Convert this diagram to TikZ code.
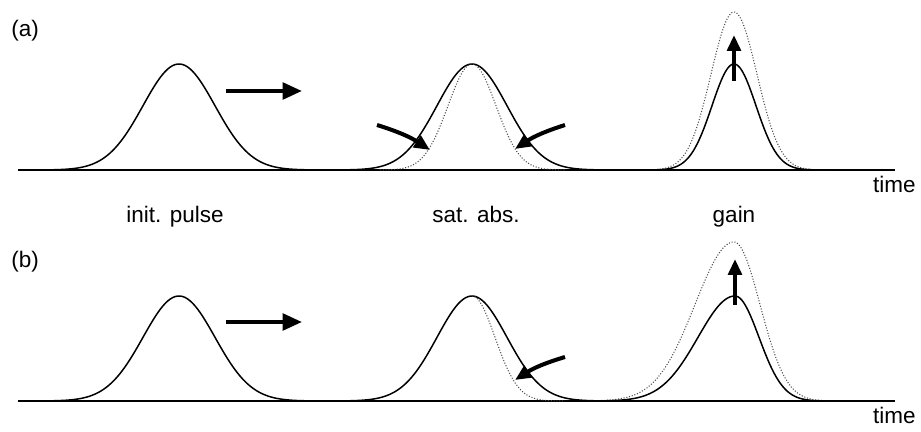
\documentclass[tikz,border=0pt]{standalone}
\usepackage{fontspec}
\setmainfont{Liberation Sans}
\usetikzlibrary{arrows.meta, positioning}

\begin{document}
\begin{tikzpicture}[x=0.02cm, y=-0.02cm,
    pulse/.style={line width=0.85pt},
    probe/.style={line width=0.6pt, black!70, densely dotted},
    axisline/.style={line width=0.8pt},
    fat/.style={-{Triangle[length=#1, width=0.85*#1]}, line width=2.3pt},
    fat/.default=9pt,
    lbl/.style={font=\fontsize{12.8}{15}\selectfont, inner sep=0pt},
    declare function={gs(\t,\c,\s)=exp(-((\t-\c)/\s)^2/2);
                      ag(\t,\c,\l,\r)=(\t<\c)*gs(\t,\c,\l)+(\t>=\c)*gs(\t,\c,\r);}]
    \useasboundingbox (0,0) rectangle (921,432);

    % (a) symmetric pulse
    \node[lbl, anchor=base west] (tagA) at (11,37) {(a)};
    \draw[axisline] (18,170) -- (895,170);
    \node[lbl, anchor=base east] (timeA) at (916,193) {time};
    \draw[pulse] plot[domain=30:330, samples=121] (\x, {170-106*gs(\x,179,36)});
    \draw[fat=11pt] (226,91) -- (302,91);
    \draw[pulse] plot[domain=330:620, samples=121] (\x, {170-106*gs(\x,472,35)});
    \draw[probe] plot[domain=380:565, samples=121] (\x, {170-106*gs(\x,472,24)});
    \draw[fat] (377,125) to[bend left=8] (430,150);
    \draw[fat] (565,125) to[bend right=8] (515,149);
    \draw[probe] plot[domain=640:830, samples=121] (\x, {170-158*gs(\x,734,23)});
    \draw[pulse] plot[domain=640:830, samples=121] (\x, {170-106*gs(\x,734,22)});
    \draw[fat] (734,81) -- (734,35);
    \node[lbl, anchor=base] (initLbl) at (175,223) {init. pulse};
    \node[lbl, anchor=base] (absLbl) at (476,223) {sat. abs.};
    \node[lbl, anchor=base] (gainLbl) at (734,223) {gain};

    % (b) asymmetric pulse
    \node[lbl, anchor=base west] (tagB) at (11,268) {(b)};
    \draw[axisline] (18,401) -- (895,401);
    \node[lbl, anchor=base east] (timeB) at (916,424) {time};
    \draw[pulse] plot[domain=30:330, samples=121] (\x, {401-105*gs(\x,179,36)});
    \draw[fat=11pt] (226,322) -- (302,322);
    \draw[pulse] plot[domain=330:620, samples=121] (\x, {401-105*gs(\x,472,35)});
    \draw[probe] plot[domain=472:565, samples=81] (\x, {401-105*gs(\x,472,23)});
    \draw[fat] (565,357) to[bend right=8] (515,380);
    \draw[probe] plot[domain=590:840, samples=161] (\x, {401-159*ag(\x,734,39,26)});
    \draw[pulse] plot[domain=590:840, samples=161] (\x, {401-105*ag(\x,735,37,24)});
    \draw[fat] (735,305) -- (735,259);
\end{tikzpicture}
\end{document}
